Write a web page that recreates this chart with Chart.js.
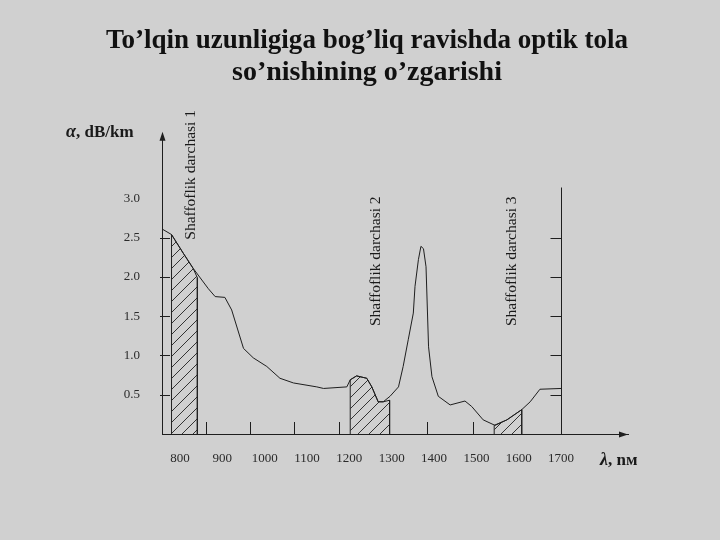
<!DOCTYPE html>
<html>
<head>
<meta charset="utf-8">
<script src="https://cdn.jsdelivr.net/npm/chart.js@4.4.1/dist/chart.umd.min.js"></script>
<style>
  html, body { margin: 0; padding: 0; background: #d0d0d0; }
  canvas { display: block; }
</style>
</head>
<body>
<canvas id="lossChart" width="720" height="540"></canvas>
<script>
// attenuation curve: wavelength (nm) and loss (dB/km)
const curveNm = [758, 780, 808, 831, 867, 883, 906, 922, 950, 973, 1005, 1036, 1068, 1123, 1139, 1194,
                 1202, 1217, 1241, 1253, 1268, 1280, 1296, 1316, 1327, 1339, 1351, 1355, 1363, 1369,
                 1375, 1381, 1387, 1395, 1410, 1438, 1473, 1489, 1516, 1544, 1572, 1607, 1627, 1650, 1700];
const curveAlpha = [2.61, 2.54, 2.30, 2.11, 1.85, 1.75, 1.74, 1.58, 1.09, 0.97, 0.86, 0.71, 0.65, 0.60, 0.58, 0.60,
                    0.69, 0.74, 0.71, 0.60, 0.41, 0.41, 0.48, 0.60, 0.86, 1.20, 1.54, 1.88, 2.22, 2.39,
                    2.36, 2.13, 1.11, 0.73, 0.48, 0.37, 0.42, 0.35, 0.18, 0.11, 0.18, 0.31, 0.41, 0.57, 0.58];

// transparency windows (hatched areas)
const win1Nm = [780, 808, 831, 841];
const win1Alpha = [2.54, 2.30, 2.11, 1.99];
const win2Nm = [1202, 1217, 1241, 1253, 1268, 1280, 1295];
const win2Alpha = [0.69, 0.74, 0.71, 0.60, 0.41, 0.41, 0.43];
const win3Nm = [1542, 1572, 1607];
const win3Alpha = [0.11, 0.18, 0.31];

const windowLabels = ['Shaffoflik darchasi 1', 'Shaffoflik darchasi 2', 'Shaffoflik darchasi 3'];
const windowLabelNm = [826, 1263, 1584];
const windowLabelAlpha = [3.30, 2.20, 2.20];

// axis labels and tick marks
const xLabels = [800, 900, 1000, 1100, 1200, 1300, 1400, 1500, 1600, 1700];
const yLabels = [0.5, 1.0, 1.5, 2.0, 2.5, 3.0];
const xTickMarks = [861, 965, 1069, 1176, 1383, 1491];
const yTickMarks = [0.5, 1.0, 1.5, 2.0, 2.5];
const rightLineNm = 1700;
const rightLineTop = 3.15;

const serif = '"Liberation Serif", "Times New Roman", serif';

function makeHatch(size, color) {
    const c = document.createElement('canvas');
    c.width = size;
    c.height = size;
    const g = c.getContext('2d');
    g.strokeStyle = color;
    g.lineWidth = 1;
    g.beginPath();
    g.moveTo(0, size); g.lineTo(size, 0);
    g.moveTo(-1, 1); g.lineTo(1, -1);
    g.moveTo(size - 1, size + 1); g.lineTo(size + 1, size - 1);
    g.stroke();
    return g.createPattern(c, 'repeat');
}

function windowPoints(nm, alpha) {
    const pts = nm.map((v, i) => ({ x: v, y: alpha[i] }));
    pts.unshift({ x: nm[0], y: 0 });
    pts.push({ x: nm[nm.length - 1], y: 0 });
    return pts;
}

const hatch = makeHatch(11, '#333');

function windowDataset(nm, alpha) {
    return {
        data: windowPoints(nm, alpha),
        borderColor: '#222',
        borderWidth: 1,
        backgroundColor: hatch,
        fill: 'origin',
        pointRadius: 0,
        tension: 0
    };
}

// ticks, arrows, extra line and free texts
const decorPlugin = {
    id: 'decor',
    afterDraw(chart) {
        const { ctx, chartArea: area, scales: { x, y } } = chart;
        const px = v => Math.round(x.getPixelForValue(v)) + 0.5;
        const py = v => Math.round(y.getPixelForValue(v)) + 0.5;
        ctx.save();
        ctx.strokeStyle = '#1e1e1e';
        ctx.fillStyle = '#1e1e1e';
        ctx.lineWidth = 1;

        ctx.beginPath();
        yTickMarks.forEach(v => { ctx.moveTo(area.left - 2, py(v)); ctx.lineTo(area.left + 8, py(v)); });
        xTickMarks.forEach(v => { ctx.moveTo(px(v), area.bottom); ctx.lineTo(px(v), area.bottom - 12); });
        const rx = px(rightLineNm);
        ctx.moveTo(rx, area.bottom);
        ctx.lineTo(rx, py(rightLineTop));
        yTickMarks.forEach(v => { ctx.moveTo(rx - 11, py(v)); ctx.lineTo(rx, py(v)); });
        ctx.stroke();

        // arrow heads
        const lx = Math.round(area.left) + 0.5;
        ctx.beginPath();
        ctx.moveTo(lx, area.top - 3);
        ctx.lineTo(lx - 3, area.top + 6);
        ctx.lineTo(lx + 3, area.top + 6);
        ctx.closePath();
        ctx.fill();
        const by = Math.round(area.bottom) + 0.5;
        ctx.beginPath();
        ctx.moveTo(area.right, by);
        ctx.lineTo(area.right - 9, by - 3);
        ctx.lineTo(area.right - 9, by + 3);
        ctx.closePath();
        ctx.fill();

        // rotated window labels
        ctx.fillStyle = '#1a1a1a';
        ctx.font = '15.5px ' + serif;
        ctx.textAlign = 'center';
        ctx.textBaseline = 'middle';
        windowLabels.forEach((t, i) => {
            ctx.save();
            ctx.translate(x.getPixelForValue(windowLabelNm[i]), y.getPixelForValue(windowLabelAlpha[i]));
            ctx.rotate(-Math.PI / 2);
            ctx.fillText(t, 0, 0);
            ctx.restore();
        });

        // axis titles
        ctx.textAlign = 'left';
        ctx.textBaseline = 'alphabetic';
        let tx = area.left - 96;
        ctx.font = 'italic bold 18px ' + serif;
        ctx.fillText('α', tx, area.top + 2);
        tx += ctx.measureText('α').width;
        ctx.font = 'bold 17px ' + serif;
        ctx.fillText(', dB/km', tx, area.top + 2);

        tx = area.right - 28;
        ctx.font = 'italic bold 18px ' + serif;
        ctx.fillText('λ', tx, area.bottom + 31);
        tx += ctx.measureText('λ').width;
        ctx.font = 'bold 17px ' + serif;
        ctx.fillText(', nм', tx, area.bottom + 31);
        ctx.restore();
    }
};

new Chart(document.getElementById('lossChart'), {
    type: 'line',
    data: {
        datasets: [
            {
                data: curveNm.map((v, i) => ({ x: v, y: curveAlpha[i] })),
                borderColor: '#1e1e1e',
                borderWidth: 1,
                pointRadius: 0,
                fill: false,
                tension: 0
            },
            windowDataset(win1Nm, win1Alpha),
            windowDataset(win2Nm, win2Alpha),
            windowDataset(win3Nm, win3Alpha)
        ]
    },
    options: {
        responsive: false,
        animation: false,
        layout: { padding: { left: 106, right: 92, top: 0, bottom: 0 } },
        plugins: {
            legend: { display: false },
            tooltip: { enabled: false },
            title: {
                display: true,
                text: ['To’lqin uzunligiga bog’liq ravishda optik tola', 'so’nishining o’zgarishi'],
                color: '#111',
                font: { family: serif, size: 28, weight: 'bold', lineHeight: 1.14 },
                padding: { top: 25, bottom: 46 }
            }
        },
        scales: {
            x: {
                type: 'linear',
                min: 757.5,
                max: 1858,
                afterBuildTicks: scale => { scale.ticks = xLabels.map(v => ({ value: v })); },
                afterFit: scale => { scale.height = 106; },
                grid: { display: false, drawTicks: false },
                border: { display: true, color: '#1e1e1e', width: 1 },
                ticks: {
                    autoSkip: false,
                    maxRotation: 0,
                    padding: 17,
                    color: '#2a2a2a',
                    font: { family: serif, size: 13 },
                    callback: v => String(v)
                }
            },
            y: {
                type: 'linear',
                min: 0,
                max: 3.81,
                afterBuildTicks: scale => { scale.ticks = yLabels.map(v => ({ value: v })); },
                afterFit: scale => { scale.width = 56; },
                grid: { display: false, drawTicks: false },
                border: { display: true, color: '#1e1e1e', width: 1 },
                ticks: {
                    padding: 22,
                    color: '#2a2a2a',
                    font: { family: serif, size: 13 },
                    callback: v => v.toFixed(1)
                }
            }
        }
    },
    plugins: [decorPlugin]
});
</script>
</body>
</html>
